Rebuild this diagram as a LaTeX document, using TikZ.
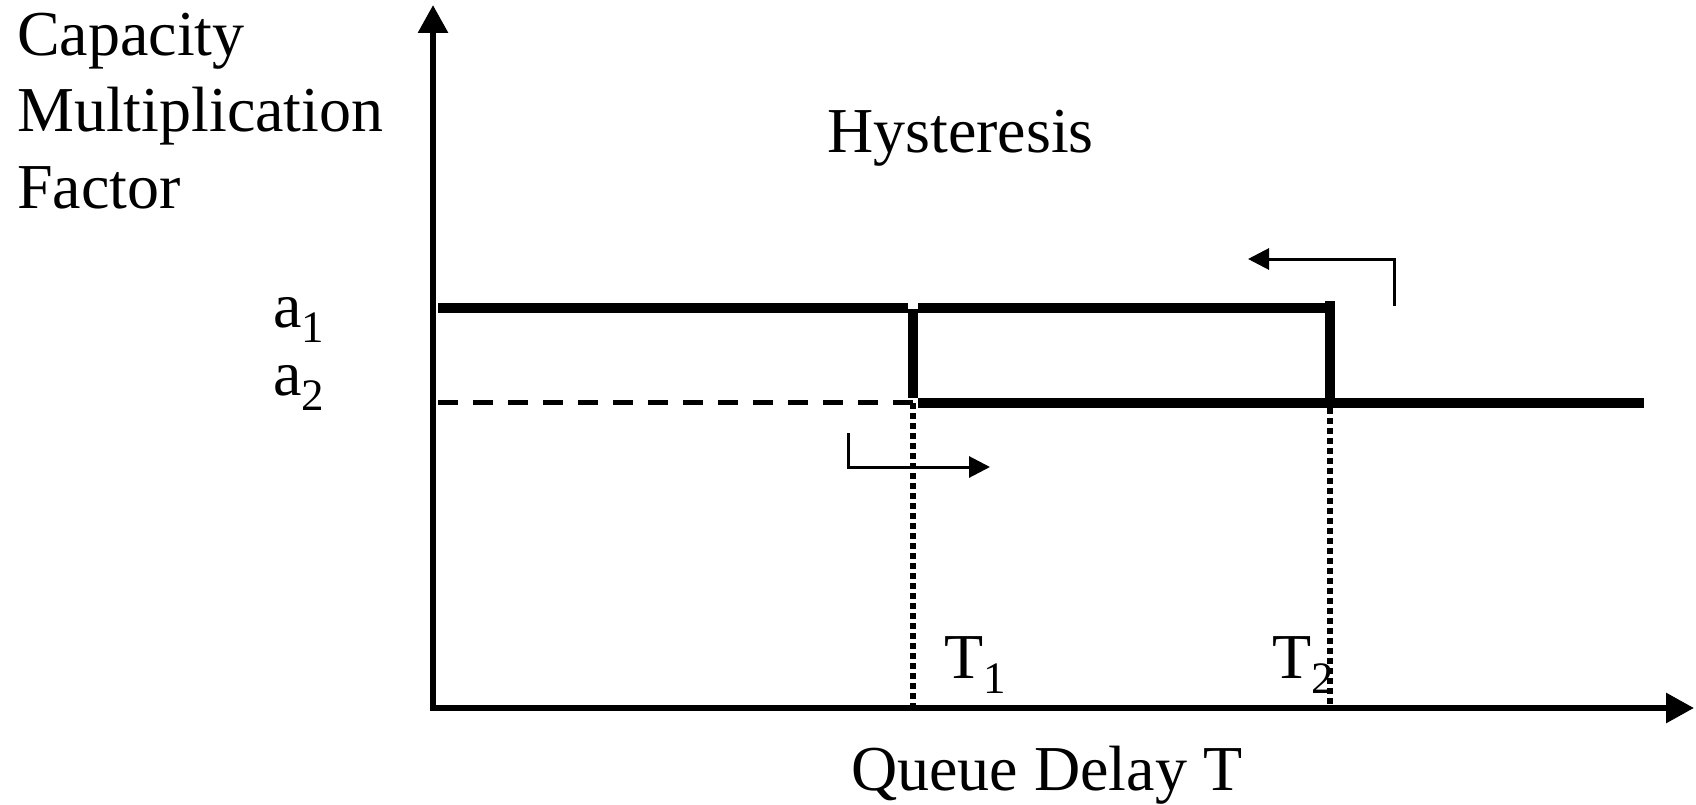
\documentclass[tikz,border=0pt]{standalone}
\usepackage{fontspec}
\setmainfont{Liberation Serif}
\usetikzlibrary{arrows.meta}
\newcommand{\subsc}[1]{\raisebox{-15pt}{\fontsize{45}{45}\selectfont #1}}
\begin{document}
\begin{tikzpicture}[x=1pt,y=-1pt,
  lbl/.style={anchor=base west,inner sep=0pt,font=\fontsize{64}{72}\selectfont},
  axis/.style={line width=6pt,-{Triangle[length=28pt,width=29pt]}},
  level/.style={line width=10.5pt},
  dashlevel/.style={line width=5pt,dash pattern=on 20pt off 15pt},
  dotdrop/.style={line width=6pt,dash pattern=on 6pt off 4pt},
  turn/.style={line width=3pt,-{Triangle[length=21pt,width=21pt]}}]
\useasboundingbox (0,0) rectangle (1696,805);
% axes
\coordinate (ybase) at (433,711);
\coordinate (ytip) at (433,5);
\coordinate (xbase) at (430,708);
\coordinate (xtip) at (1694,708);
\draw[axis] (ybase) -- (ytip);
\draw[axis] (xbase) -- (xtip);
% levels
\coordinate (a1L) at (438,308);
\coordinate (a1M) at (908,308);
\coordinate (a1N) at (918,308);
\coordinate (a1R) at (1335,308);
\coordinate (t1top) at (913,309);
\coordinate (t1bot) at (913,398);
\coordinate (t2top) at (1330,301);
\coordinate (t2bot) at (1330,408);
\coordinate (a2L) at (438,402.5);
\coordinate (a2M) at (913,402.5);
\coordinate (a2N) at (918,403);
\coordinate (a2R) at (1644,403);
\draw[level] (a1L) -- (a1M);
\draw[level] (a1N) -- (a1R);
\draw[level] (t1top) -- (t1bot);
\draw[level] (t2top) -- (t2bot);
\draw[dashlevel] (a2L) -- (a2M);
\draw[level] (a2N) -- (a2R);
% dotted drops
\coordinate (d1a) at (913,403);
\coordinate (d1b) at (913,708);
\coordinate (d2a) at (1330,408);
\coordinate (d2b) at (1330,708);
\draw[dotdrop] (d1a) -- (d1b);
\draw[dotdrop] (d2a) -- (d2b);
% direction arrows
\coordinate (r1) at (848,433);
\coordinate (r2) at (848,467);
\coordinate (r3) at (990,467);
\coordinate (l1) at (1394,306);
\coordinate (l2) at (1394,259);
\coordinate (l3) at (1248,259);
\draw[turn] (r1) -- (r2) -- (r3);
\draw[turn] (l1) -- (l2) -- (l3);
% labels
\node[lbl] (cap1) at (17,56) {Capacity};
\node[lbl] (cap2) at (17,132) {Multiplication};
\node[lbl] (cap3) at (17,208) {Factor};
\node[lbl] (hys) at (827,153) {Hysteresis};
\node[lbl] (qd) at (851,790) {Queue Delay T};
\node[lbl] (la1) at (273,327) {a\subsc{1}};
\node[lbl] (la2) at (273,395) {a\subsc{2}};
\node[lbl] (lt1) at (944,678) {T\subsc{1}};
\node[lbl] (lt2) at (1272,678) {T\subsc{2}};
\end{tikzpicture}
\end{document}
